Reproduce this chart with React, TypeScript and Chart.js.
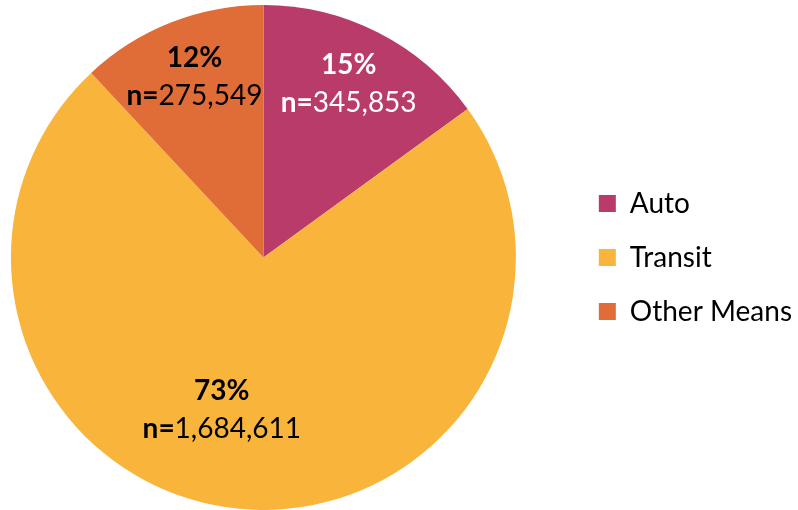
import React, { useEffect, useRef } from "react";
import { Chart, registerables } from "chart.js";

Chart.register(...registerables);

const categories = ["Auto", "Transit", "Other Means"];
const counts = [345853, 1684611, 275549];
const sliceColors = ["#B93B69", "#F9B53B", "#E06C37"];
const labelColors = ["#FFFFFF", "#000000", "#000000"];
// label placement: fraction of radius, angular offset (deg) from slice middle
const labelRadius = [0.765, 0.625, 0.765];
const labelAngleOffset = [-0.8, 9.8, 0.6];

const FONT = "Lato, 'Open Sans', sans-serif";
const LABEL_SIZE = 28;

const labelPlugin = {
  id: "sliceLabels",
  afterDatasetsDraw(chart: any) {
    const ctx = chart.ctx;
    const meta = chart.getDatasetMeta(0);
    const data = chart.data.datasets[0].data as number[];
    const total = data.reduce((a, b) => a + b, 0);
    meta.data.forEach((arc: any, i: number) => {
      const { x, y, startAngle, endAngle, outerRadius } = arc.getProps(
        ["x", "y", "startAngle", "endAngle", "outerRadius"],
        true
      );
      const mid = (startAngle + endAngle) / 2 + (labelAngleOffset[i] * Math.PI) / 180;
      const r = outerRadius * labelRadius[i];
      const cx = x + Math.cos(mid) * r;
      const cy = y + Math.sin(mid) * r;
      const pct = Math.round((data[i] / total) * 100) + "%";
      const nPart = "n=";
      const num = data[i].toLocaleString("en-US");
      ctx.save();
      ctx.fillStyle = labelColors[i];
      ctx.textBaseline = "middle";
      ctx.textAlign = "left";
      ctx.font = `bold ${LABEL_SIZE}px ${FONT}`;
      const w1 = ctx.measureText(pct).width;
      ctx.fillText(pct, cx - w1 / 2, cy - 19);
      const wn = ctx.measureText(nPart).width;
      ctx.font = `${LABEL_SIZE}px ${FONT}`;
      const wv = ctx.measureText(num).width;
      const start = cx - (wn + wv) / 2;
      ctx.font = `bold ${LABEL_SIZE}px ${FONT}`;
      ctx.fillText(nPart, start, cy + 19);
      ctx.font = `${LABEL_SIZE}px ${FONT}`;
      ctx.fillText(num, start + wn, cy + 19);
      ctx.restore();
    });
  },
};

export default function App() {
  const ref = useRef<HTMLCanvasElement | null>(null);
  useEffect(() => {
    if (!ref.current) return;
    const chart = new Chart(ref.current, {
      type: "pie",
      data: {
        labels: categories,
        datasets: [
          {
            data: counts,
            backgroundColor: sliceColors,
            borderWidth: 0,
          },
        ],
      },
      options: {
        animation: false,
        responsive: true,
        maintainAspectRatio: false,
        layout: { padding: { left: 0, right: 2, top: 5, bottom: 0 } },
        plugins: {
          tooltip: { enabled: false },
          legend: {
            position: "right",
            labels: {
              boxWidth: 17,
              boxHeight: 17,
              padding: 26,
              color: "#000000",
              font: { family: FONT, size: 28 },
            },
          },
        },
      },
      plugins: [labelPlugin],
    });
    return () => chart.destroy();
  }, []);
  return (
    <div style={{ position: "fixed", left: 0, top: 0, width: 798, height: 510, overflow: "hidden", background: "#fff" }}>
      <div style={{ position: "absolute", left: -46, top: 0, width: 850, height: 510 }}>
        <canvas ref={ref} />
      </div>
    </div>
  );
}
